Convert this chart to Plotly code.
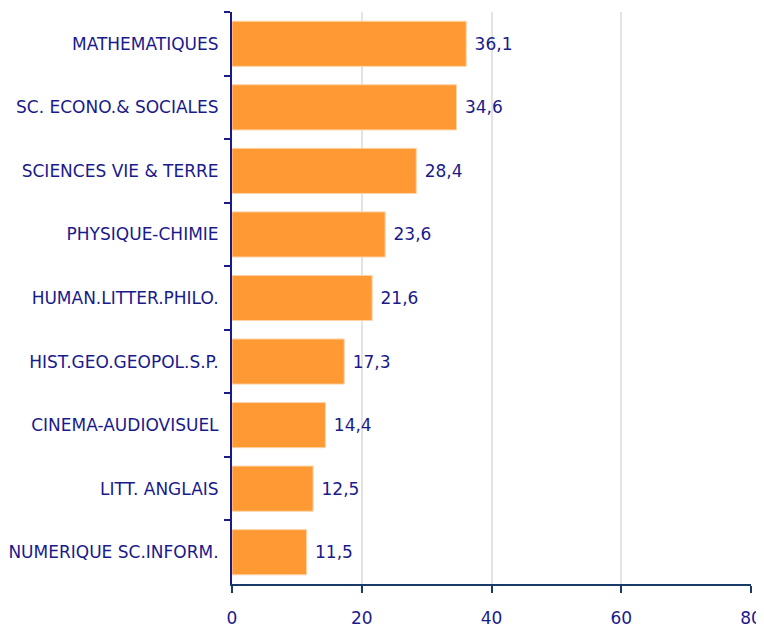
import plotly.graph_objects as go

categories = ["MATHEMATIQUES", "SC. ECONO.& SOCIALES", "SCIENCES VIE & TERRE",
              "PHYSIQUE-CHIMIE", "HUMAN.LITTER.PHILO.", "HIST.GEO.GEOPOL.S.P.",
              "CINEMA-AUDIOVISUEL", "LITT. ANGLAIS", "NUMERIQUE SC.INFORM."]
values = [36.1, 34.6, 28.4, 23.6, 21.6, 17.3, 14.4, 12.5, 11.5]
labels = [" " + f"{v:.1f}".replace(".", ",") for v in values]
x_ticks = [0, 20, 40, 60, 80]

navy = "#1a1a8a"
fig = go.Figure(go.Bar(
    x=values, y=categories, orientation="h",
    marker=dict(color="#FF9933", line=dict(color="#FFD3A6", width=1)),
    text=labels, textposition="outside", cliponaxis=False,
    textfont=dict(color=navy, size=17, family="DejaVu Sans"),
))
fig.update_layout(
    width=756, height=617,
    margin=dict(l=224, r=13, t=4, b=41, autoexpand=False),
    plot_bgcolor="white", paper_bgcolor="white",
    bargap=0.29, showlegend=False,
    font=dict(family="DejaVu Sans", size=17, color=navy),
)
fig.update_xaxes(range=[0, 80], tickvals=x_ticks, showgrid=True, gridcolor="#e3e3e3",
                 gridwidth=1.5, zeroline=False, showline=True, linecolor="#1a3a6a", linewidth=2,
                 ticks="outside", ticklen=7, tickwidth=2, tickcolor="#1a3a6a", automargin=False,
                 ticklabelstandoff=11, tickfont=dict(color=navy, size=17))
fig.update_yaxes(autorange="reversed", showline=True, linecolor=navy, linewidth=2,
                 ticks="outside", tickson="boundaries", ticklen=6, tickwidth=2, tickcolor=navy,
                 automargin=False,
                 showgrid=False, tickfont=dict(color=navy, size=17), ticklabelstandoff=8)
fig.write_html("out.html")
